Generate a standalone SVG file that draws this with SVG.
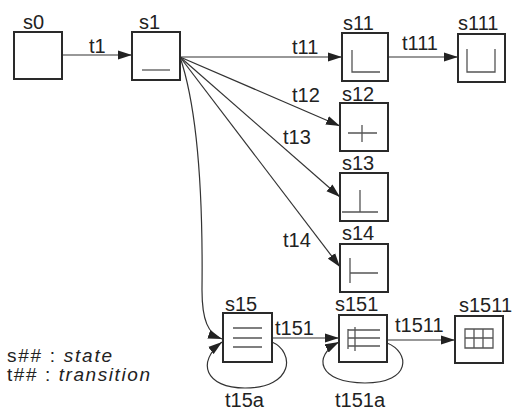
<svg xmlns="http://www.w3.org/2000/svg" width="521" height="410" viewBox="0 0 521 410">
<defs>
<marker id="ah" markerWidth="15" markerHeight="10" refX="14" refY="5" orient="auto" markerUnits="userSpaceOnUse">
<path d="M0,0.5 L14,5 L0,9.5 Z" fill="#222"/>
</marker>
<style>
.box{fill:#fff;stroke:#2a2a2a;stroke-width:2}
.ic{fill:none;stroke:#555;stroke-width:1.3}
.cn{fill:none;stroke:#333;stroke-width:1.2;marker-end:url(#ah)}
.lb{font-family:"Liberation Sans",Arial,sans-serif;font-size:20px;fill:#222}
.lg{font-family:"Liberation Sans",Arial,sans-serif;font-size:19px;fill:#222}
.it{font-style:italic}
</style>
</defs>
<rect width="521" height="410" fill="#fff"/>
<g id="connectors">
<path class="cn" d="M62,55 L132,55"/>
<path class="cn" d="M180,57 L342,57"/>
<path class="cn" d="M388,57 L458,57"/>
<path class="cn" d="M180,57 L340,126"/>
<path class="cn" d="M180,57 L340,197"/>
<path class="cn" d="M180,57 L340,267"/>
<path class="cn" d="M180,57 C198,110 203,200 202,290 C202,320 208,334 222,339"/>
<path class="cn" d="M272,338 L339,338"/>
<path class="cn" d="M387,340 L455,340"/>
<path class="cn" d="M272,342 C295,352 294,388 245,388 C205,388 196,362 222,342"/>
<path class="cn" d="M387,343 C410,352 412,383 365,383 C318,383 312,356 339,342"/>
<text class="lb" x="89" y="53">t1</text>
<text class="lb" x="292" y="54">t11</text>
<text class="lb" x="402" y="50">t111</text>
<text class="lb" x="292" y="102">t12</text>
<text class="lb" x="283" y="144">t13</text>
<text class="lb" x="283" y="247">t14</text>
<text class="lb" x="275" y="335">t151</text>
<text class="lb" x="395" y="332">t1511</text>
<text class="lb" x="225" y="407">t15a</text>
<text class="lb" x="335" y="407">t151a</text>
</g>
<g id="s0">
<rect class="box" x="14" y="32" width="48" height="47"/>
<text class="lb" x="23" y="29">s0</text>
</g>
<g id="s1">
<rect class="box" x="132" y="32" width="48" height="48"/>
<path class="ic" d="M142,70 L170,70"/>
<text class="lb" x="139" y="29">s1</text>
</g>
<g id="s11">
<rect class="box" x="342" y="33" width="46" height="48"/>
<path class="ic" d="M352,50 L352,72 L380,72"/>
<text class="lb" x="343" y="30">s11</text>
</g>
<g id="s111">
<rect class="box" x="458" y="34" width="47" height="48"/>
<path class="ic" d="M467,49 L467,72 L495,72 L495,49"/>
<text class="lb" x="458" y="30">s111</text>
</g>
<g id="s12">
<rect class="box" x="340" y="103" width="48" height="48"/>
<path class="ic" d="M348,133 L377,133 M362,125 L362,142"/>
<text class="lb" x="342" y="101">s12</text>
</g>
<g id="s13">
<rect class="box" x="340" y="173" width="48" height="48"/>
<path class="ic" d="M342,212 L378,212 M360,190 L360,212"/>
<text class="lb" x="342" y="170">s13</text>
</g>
<g id="s14">
<rect class="box" x="340" y="244" width="48" height="48"/>
<path class="ic" d="M350,258 L350,283 M350,273 L378,273"/>
<text class="lb" x="342" y="240">s14</text>
</g>
<g id="s15">
<rect class="box" x="223" y="313" width="49" height="49"/>
<path class="ic" d="M233,328 L262,328 M233,338 L262,338 M233,347 L262,347"/>
<text class="lb" x="225" y="311">s15</text>
</g>
<g id="s151">
<rect class="box" x="339" y="315" width="48" height="47"/>
<path class="ic" d="M348,329 L348,349 M355,327 L355,351 M348,330 L380,330 M348,338 L380,338 M348,346 L380,346"/>
<text class="lb" x="335" y="311">s151</text>
</g>
<g id="s1511">
<rect class="box" x="455" y="316" width="48" height="47"/>
<path class="ic" d="M465,329 L493,329 L493,348 L465,348 Z M474,329 L474,348 M483,329 L483,348 M465,338 L493,338"/>
<text class="lb" x="459" y="312">s1511</text>
</g>
<g id="legend">
<text class="lg" x="7" y="362" textLength="105" lengthAdjust="spacing">s## : <tspan class="it">state</tspan></text>
<text class="lg" x="7" y="381" textLength="143" lengthAdjust="spacing">t## : <tspan class="it">transition</tspan></text>
</g>
</svg>
